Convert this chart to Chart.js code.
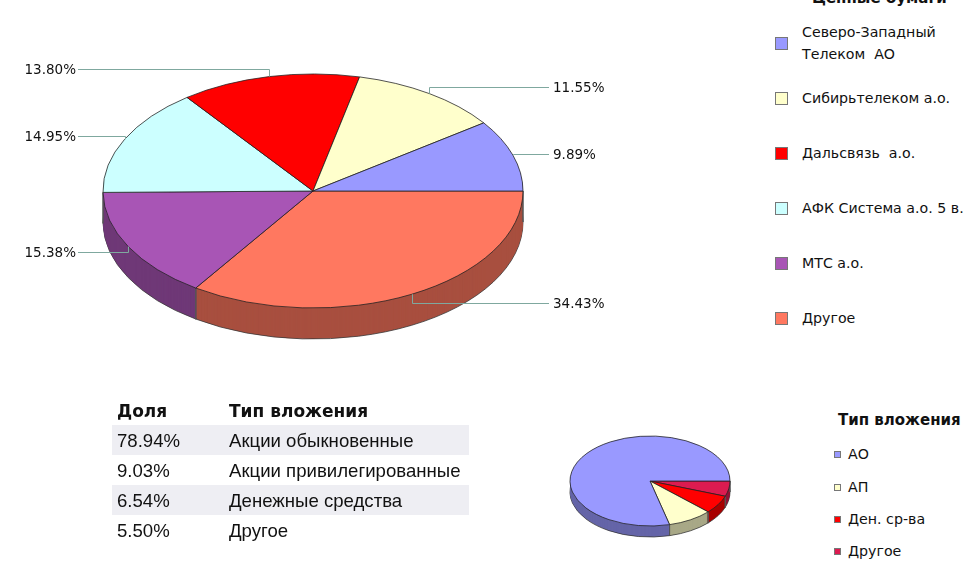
<!DOCTYPE html>
<html lang="ru">
<head>
<meta charset="UTF-8">
<title>Ценные бумаги</title>
<script src="https://cdn.jsdelivr.net/npm/chart.js"></script>
<style>
    html, body { margin: 0; padding: 0; background: #fff; overflow: hidden; }
    body { position: relative; width: 976px; height: 564px; font-family: "DejaVu Sans", sans-serif; color: #111; }
    canvas { position: absolute; }
    #bigPie { left: 0; top: -19px; }
    #smallPie { left: 565px; top: 396px; }
    .title { position: absolute; font-weight: bold; font-size: 15px; white-space: nowrap; }
    .item { position: absolute; font-size: 14.2px; line-height: 22px; white-space: nowrap; transform: translateY(-50%); }
    .swatch { position: absolute; box-sizing: border-box; border: 1px solid #777; }
    table { position: absolute; left: 112px; top: 395px; width: 357px; border-collapse: collapse; table-layout: fixed; font: 18.6px "Liberation Sans", sans-serif; }
    td, th { box-sizing: border-box; height: 30px; padding: 2px 0 0 5px; text-align: left; white-space: nowrap; }
    th { font: bold 17px "DejaVu Sans", sans-serif; }
    td:first-child, th:first-child { width: 112px; }
    tr.shade td { background: #eeeef3; }
</style>
</head>
<body>
<canvas id="bigPie" width="626" height="420"></canvas>
<canvas id="smallPie" width="170" height="170"></canvas>
<div class="title" style="left:812px;top:-11px">Ценные бумаги</div>
<div class="title" style="left:838px;top:411px">Тип вложения</div>
<div id="legends"></div>
<table id="shares"></table>
<script>
    var securities = [['Северо-Западный', 'Телеком  АО'], ['Сибирьтелеком а.о.'], ['Дальсвязь  а.о.'], ['АФК Система а.о. 5 в.'], ['МТС а.о.'], ['Другое']];
    var securityShares = [9.89, 11.55, 13.80, 14.95, 15.38, 34.43];
    var securityColors = ['#9999ff', '#ffffcc', '#ff0000', '#ccffff', '#a855b5', '#ff7860'];

    var investTypes = ['Акции обыкновенные', 'Акции привилегированные', 'Денежные средства', 'Другое'];
    var investShort = ['АО', 'АП', 'Ден. ср-ва', 'Другое'];
    var investShares = [78.94, 9.03, 6.54, 5.50];
    var investColors = ['#9999ff', '#ffffcc', '#ff0000', '#dc1b50'];

    // y of the horizontal part of each leader line, same order as securities
    var leaderRows = [154, 87, 69, 136, 252, 303];

    function darker(hex) {
        var n = parseInt(hex.slice(1), 16);
        var r = Math.round((n >> 16) * 0.66), g = Math.round(((n >> 8) & 255) * 0.66), b = Math.round((n & 255) * 0.66);
        return 'rgb(' + r + ',' + g + ',' + b + ')';
    }

    // squash the pie into an ellipse and extrude it downwards
    function tiltPlugin(squash, depth) {
        return {
            id: 'tilt',
            beforeDatasetsDraw: function (chart) {
                var ctx = chart.ctx;
                var arcs = chart.getDatasetMeta(0).data;
                var cx = arcs[0].x, cy = arcs[0].y, r = arcs[0].outerRadius;
                for (var d = depth; d >= 1; d--) {
                    ctx.save();
                    ctx.translate(cx, cy + d);
                    ctx.scale(1, squash);
                    ctx.translate(-cx, -cy);
                    arcs.forEach(function (arc) {
                        var wall = Object.create(arc);
                        wall.options = {
                            backgroundColor: darker(arc.options.backgroundColor),
                            borderColor: '#333',
                            borderWidth: d === depth ? 1 : 0,
                            borderAlign: 'center', borderRadius: 0, borderJoinStyle: 'round',
                            spacing: 0, offset: 0, circular: true
                        };
                        wall.draw(ctx);
                    });
                    ctx.restore();
                }
                // vertical edges between the wall segments
                ctx.save();
                ctx.strokeStyle = '#555';
                ctx.lineWidth = 1;
                arcs.forEach(function (arc, i) {
                    [arc.startAngle, arc.endAngle].forEach(function (a) {
                        if (Math.sin(a) < -0.02) return;
                        var x = cx + r * Math.cos(a), y = cy + r * squash * Math.sin(a);
                        ctx.beginPath();
                        ctx.moveTo(x, y);
                        ctx.lineTo(x, y + depth);
                        ctx.stroke();
                    });
                });
                ctx.restore();
                ctx.save();
                ctx.translate(cx, cy);
                ctx.scale(1, squash);
                ctx.translate(-cx, -cy);
            },
            afterDatasetsDraw: function (chart) {
                chart.ctx.restore();
            }
        };
    }

    var leaderPlugin = {
        id: 'leaders',
        afterDraw: function (chart) {
            var ctx = chart.ctx;
            var arcs = chart.getDatasetMeta(0).data;
            var rows = leaderRows.slice().reverse();
            var values = chart.data.datasets[0].data;
            var squash = 117 / 210;
            var shift = chart.canvas.offsetTop;
            ctx.save();
            ctx.font = '13.5px "DejaVu Sans"';
            ctx.textBaseline = 'middle';
            arcs.forEach(function (arc, i) {
                var mid = (arc.startAngle + arc.endAngle) / 2;
                var x = Math.round(arc.x + arc.outerRadius * Math.cos(mid)) + 0.5;
                var y = arc.y + arc.outerRadius * squash * Math.sin(mid);
                var row = rows[i] - shift + 0.5;
                var left = Math.cos(mid) < 0;
                ctx.strokeStyle = '#7fa89f';
                ctx.lineWidth = 1;
                ctx.beginPath();
                ctx.moveTo(x, y);
                ctx.lineTo(x, row);
                ctx.lineTo(left ? 78 : 549, row);
                ctx.stroke();
                ctx.fillStyle = '#111';
                ctx.textAlign = left ? 'right' : 'left';
                ctx.fillText(values[i].toFixed(2) + '%', left ? 76 : 553, row + 1);
            });
            ctx.restore();
        }
    };

    function makePie(id, values, colors, radius, squash, depth, extra) {
        return new Chart(document.getElementById(id), {
            type: 'pie',
            data: {
                labels: values.map(String),
                datasets: [{
                    data: values,
                    backgroundColor: colors,
                    borderColor: '#222',
                    borderWidth: 1,
                    borderAlign: 'center',
                    clip: false
                }]
            },
            options: {
                responsive: false,
                animation: false,
                rotation: 90,
                radius: radius,
                events: [],
                plugins: { legend: { display: false }, tooltip: { enabled: false } }
            },
            plugins: [tiltPlugin(squash, depth)].concat(extra)
        });
    }

    // pies run clockwise from the east, legends list the slices the other way round
    makePie('bigPie', securityShares.slice().reverse(), securityColors.slice().reverse(), 210, 117 / 210, 31, [leaderPlugin]);
    makePie('smallPie', investShares.slice().reverse(), investColors.slice().reverse(), 80, 45 / 80, 11, []);

    var legends = document.getElementById('legends');
    function legendRow(lines, color, x, y, size, textX) {
        var s = document.createElement('div');
        s.className = 'swatch';
        s.style.cssText = 'left:' + x + 'px;top:' + (y - size / 2) + 'px;width:' + size + 'px;height:' + size + 'px;background:' + color;
        legends.appendChild(s);
        var t = document.createElement('div');
        t.className = 'item';
        t.style.left = textX + 'px';
        t.style.top = y + 'px';
        t.style.whiteSpace = 'pre';
        t.textContent = lines.join('\n');
        legends.appendChild(t);
    }
    var bigRows = [43, 98, 153, 208, 263, 318];
    securities.forEach(function (lines, i) { legendRow(lines, securityColors[i], 775, bigRows[i], 13, 802); });
    var smallRows = [454, 487, 519, 551];
    investShort.forEach(function (name, i) { legendRow([name], investColors[i], 834, smallRows[i], 7, 848); });

    var html = '<tr><th>Доля</th><th>Тип вложения</th></tr>';
    investTypes.forEach(function (name, i) {
        html += '<tr class="' + (i % 2 === 0 ? 'shade' : '') + '"><td>' + investShares[i].toFixed(2) + '%</td><td>' + name + '</td></tr>';
    });
    document.getElementById('shares').innerHTML = html;
</script>
</body>
</html>
